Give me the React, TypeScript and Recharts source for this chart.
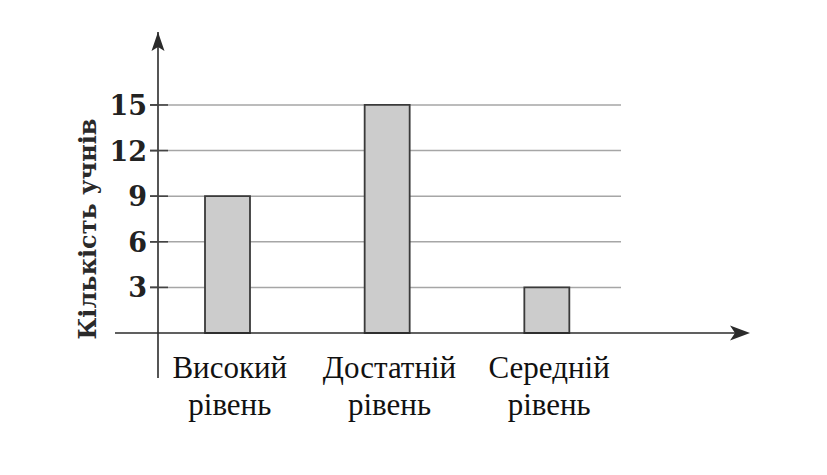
import { BarChart, Bar, XAxis, YAxis, CartesianGrid, ReferenceLine } from "recharts";

const levels = ["Високий рівень", "Достатній рівень", "Середній рівень"];
const pupils = [9, 15, 3];
const countTicks = [3, 6, 9, 12, 15];

const data = levels.map((level, i) => ({ level, pupils: pupils[i] }));

const ink = "#2b2b2b";
const serif = "Liberation Serif";
const bookFont = "DejaVu Serif";

function LevelTick(props: any) {
  const { x, y, payload } = props;
  const [first, second] = String(payload.value).split(" ");
  return (
    <text x={x + 2} y={y} textAnchor="middle" fontFamily={serif} fontSize={31} fill="#111">
      <tspan x={x + 2} dy={0}>{first}</tspan>
      <tspan x={x + 2} dy={37}>{second}</tspan>
    </text>
  );
}

function CountTick(props: any) {
  const { x, y, payload } = props;
  return (
    <g>
      <line x1={x + 3} y1={y} x2={x + 21} y2={y} stroke="#444" strokeWidth={1.6} />
      <text
        x={x}
        y={y}
        dy={10}
        textAnchor="end"
        fontFamily={bookFont}
        fontSize={27}
        fontWeight={600}
        fill="#222"
      >
        {payload.value}
      </text>
    </g>
  );
}

function AxisTitle(props: any) {
  const { viewBox } = props;
  const ax = viewBox.x + viewBox.width;
  const top = viewBox.y;
  const cx = viewBox.x + 87;
  const cy = viewBox.y + 197;
  return (
    <g>
      <path
        d={`M${ax},${top} L${ax + 6.5},${top + 19} L${ax},${top + 15} L${ax - 6.5},${top + 19} Z`}
        fill={ink}
      />
      <text
        x={cx}
        y={cy}
        transform={`rotate(-90 ${cx} ${cy})`}
        textAnchor="middle"
        dominantBaseline="central"
        fontFamily={bookFont}
        fontSize={24}
        fontWeight={600}
        fill="#2a2a2a"
      >
        Кількість учнів
      </text>
    </g>
  );
}

function BaseAxis(props: any) {
  const { x1, y1, x2 } = props;
  const left = x1 - 43;
  return (
    <g>
      <line x1={left} y1={y1} x2={x2 - 10} y2={y1} stroke={ink} strokeWidth={1.6} />
      <path
        d={`M${x2},${y1} L${x2 - 20},${y1 - 7.5} L${x2 - 15},${y1} L${x2 - 20},${y1 + 7.5} Z`}
        fill={ink}
      />
    </g>
  );
}

export default function App() {
  return (
    <div style={{ position: "absolute", left: 0, top: 0, background: "#fff" }}>
      <BarChart
        width={827}
        height={475}
        data={data}
        margin={{ top: 32, right: 77, bottom: 37, left: 0 }}
      >
        <CartesianGrid
          vertical={false}
          horizontalValues={countTicks}
          horizontal={(p: any) =>
            p.y1 < 40 || p.y1 > 370 ? (
              <g key={p.key ?? p.index} />
            ) : (
              <line
                key={p.key ?? p.index}
                x1={p.x1}
                y1={p.y1}
                x2={p.x1 + 463}
                y2={p.y2}
                stroke="#a6a6a6"
                strokeWidth={1.5}
              />
            )
          }
        />
        <XAxis
          dataKey="level"
          height={60}
          axisLine={false}
          tickLine={false}
          tickSize={0}
          tickMargin={0}
          interval={0}
          padding={{ left: -10, right: 123 }}
          tick={(p: any) => <LevelTick {...p} />}
        />
        <YAxis
          width={158}
          type="number"
          domain={[-2.96, 19.8]}
          ticks={countTicks}
          allowDataOverflow
          axisLine={{ stroke: ink, strokeWidth: 1.6 }}
          tickLine={{ stroke: "#444", strokeWidth: 1.6 }}
          tickSize={8}
          tickMargin={3}
          tick={(p: any) => <CountTick {...p} />}
          label={{ content: (p: any) => <AxisTitle {...p} /> }}
        />
        <ReferenceLine y={0} shape={(p: any) => <BaseAxis {...p} />} />
        <Bar
          dataKey="pupils"
          barSize={45}
          fill="#cccccc"
          stroke="#3a3a3a"
          strokeWidth={1.8}
          isAnimationActive={false}
        />
      </BarChart>
    </div>
  );
}
